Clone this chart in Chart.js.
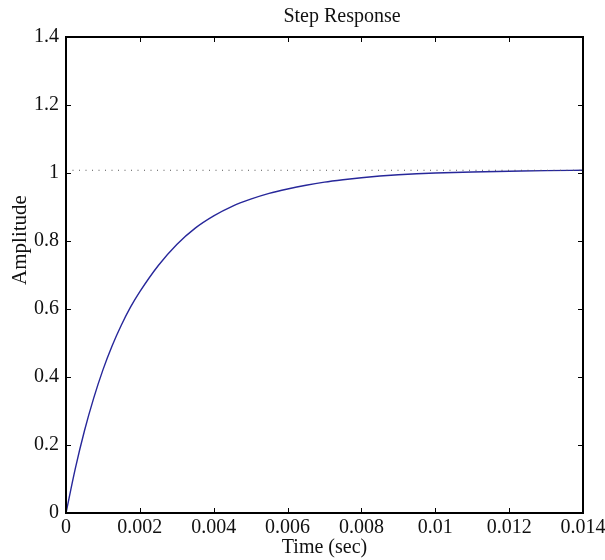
<!DOCTYPE html>
<html>
<head>
<meta charset="utf-8">
<script src="https://cdn.jsdelivr.net/npm/chart.js@4/dist/chart.umd.min.js"></script>
<style>
html,body{margin:0;padding:0;background:#fff;}
#wrap{width:605px;height:560px;}
</style>
</head>
<body>
<div id="wrap"><canvas id="c" width="605" height="560"></canvas></div>
<script>
// Data
const timeSec = [0, 0.00025, 0.0005, 0.00075, 0.001, 0.00125, 0.0015, 0.00175, 0.002, 0.0025, 0.003, 0.0035, 0.004, 0.0045, 0.005, 0.0055, 0.006, 0.0065, 0.007, 0.0075, 0.008, 0.0085, 0.009, 0.0095, 0.01, 0.011, 0.012, 0.013, 0.014];
const amplitude = [0, 0.13, 0.242, 0.338, 0.421, 0.492, 0.553, 0.606, 0.651, 0.728, 0.790, 0.838, 0.874, 0.902, 0.923, 0.940, 0.953, 0.964, 0.973, 0.980, 0.986, 0.991, 0.995, 0.998, 1.000, 1.003, 1.005, 1.007, 1.008];
const steadyState = 1.008;
const xTickValues = [0, 0.002, 0.004, 0.006, 0.008, 0.01, 0.012, 0.014];
const xTickLabels = ["0", "0.002", "0.004", "0.006", "0.008", "0.01", "0.012", "0.014"];
const yTickValues = [0, 0.2, 0.4, 0.6, 0.8, 1, 1.2, 1.4];
const yTickLabels = ["0", "0.2", "0.4", "0.6", "0.8", "1", "1.2", "1.4"];
const chartTitle = "Step Response";
const xTitle = "Time (sec)";
const yTitle = "Amplitude";

const FONT = "'Liberation Serif', 'DejaVu Serif', serif";

const curve = timeSec.map((t, i) => ({x: t, y: amplitude[i]}));
const refLine = [{x: 0, y: steadyState}, {x: 0.014, y: steadyState}];

const framePlugin = {
  id: 'frame',
  afterDatasetsDraw(chart) {
    const ctx = chart.ctx;
    const a = chart.chartArea;
    const xs = chart.scales.x, ys = chart.scales.y;
    ctx.save();
    ctx.strokeStyle = '#000';
    ctx.lineWidth = 1;
    const tl = 5;
    ctx.beginPath();
    xTickValues.forEach(v => {
      const px = Math.round(xs.getPixelForValue(v)) + 0.5;
      ctx.moveTo(px, a.bottom); ctx.lineTo(px, a.bottom - tl);
      ctx.moveTo(px, a.top); ctx.lineTo(px, a.top + tl);
    });
    yTickValues.forEach(v => {
      const py = Math.round(ys.getPixelForValue(v)) + 0.5;
      ctx.moveTo(a.left, py); ctx.lineTo(a.left + tl, py);
      ctx.moveTo(a.right, py); ctx.lineTo(a.right - tl, py);
    });
    ctx.stroke();
    ctx.lineWidth = 2;
    ctx.strokeRect(a.left, a.top, a.right - a.left, a.bottom - a.top);
    // titles
    ctx.fillStyle = '#111';
    ctx.font = "20px " + FONT;
    ctx.textAlign = 'center';
    ctx.textBaseline = 'middle';
    const cx = (a.left + a.right) / 2;
    ctx.fillText(chartTitle, 342, 17);
    ctx.fillText(xTitle, cx, 548);
    ctx.translate(20, 240);
    ctx.rotate(-Math.PI / 2);
    ctx.font = "21px " + FONT;
    ctx.fillText(yTitle, 0, 0);
    ctx.restore();
  }
};

new Chart(document.getElementById('c'), {
  type: 'line',
  data: {
    datasets: [
      {data: refLine, borderColor: '#555', borderWidth: 1, borderDash: [1, 5.5], pointRadius: 0, fill: false},
      {data: curve, borderColor: '#27279a', borderWidth: 1.4, pointRadius: 0, fill: false, cubicInterpolationMode: 'monotone'}
    ]
  },
  options: {
    responsive: false,
    animation: false,
    events: [],
    layout: {padding: {left: 0, right: 22, top: 37, bottom: 0}},
    plugins: {legend: {display: false}, tooltip: {enabled: false}, title: {display: false}},
    scales: {
      x: {
        type: 'linear', min: 0, max: 0.014,
        afterBuildTicks: s => { s.ticks = xTickValues.map(v => ({value: v})); },
        afterFit: s => { s.height = 47; s.paddingLeft = 0; s.paddingRight = 0; },
        grid: {display: false, drawTicks: false},
        border: {display: false},
        ticks: {
          padding: 3,
          maxRotation: 0,
          autoSkip: false,
          color: '#111',
          font: {family: FONT, size: 20},
          callback: (v) => { const i = xTickValues.indexOf(v); return i >= 0 ? xTickLabels[i] : ''; }
        }
      },
      y: {
        type: 'linear', min: 0, max: 1.4,
        afterBuildTicks: s => { s.ticks = yTickValues.map(v => ({value: v})); },
        afterFit: s => { s.width = 66; s.paddingTop = 0; s.paddingBottom = 0; },
        grid: {display: false, drawTicks: false},
        border: {display: false},
        ticks: {
          padding: 7,
          autoSkip: false,
          color: '#111',
          font: {family: FONT, size: 20},
          callback: (v) => { const i = yTickValues.indexOf(v); return i >= 0 ? yTickLabels[i] : ''; }
        }
      }
    }
  },
  plugins: [framePlugin]
});
</script>
</body>
</html>
